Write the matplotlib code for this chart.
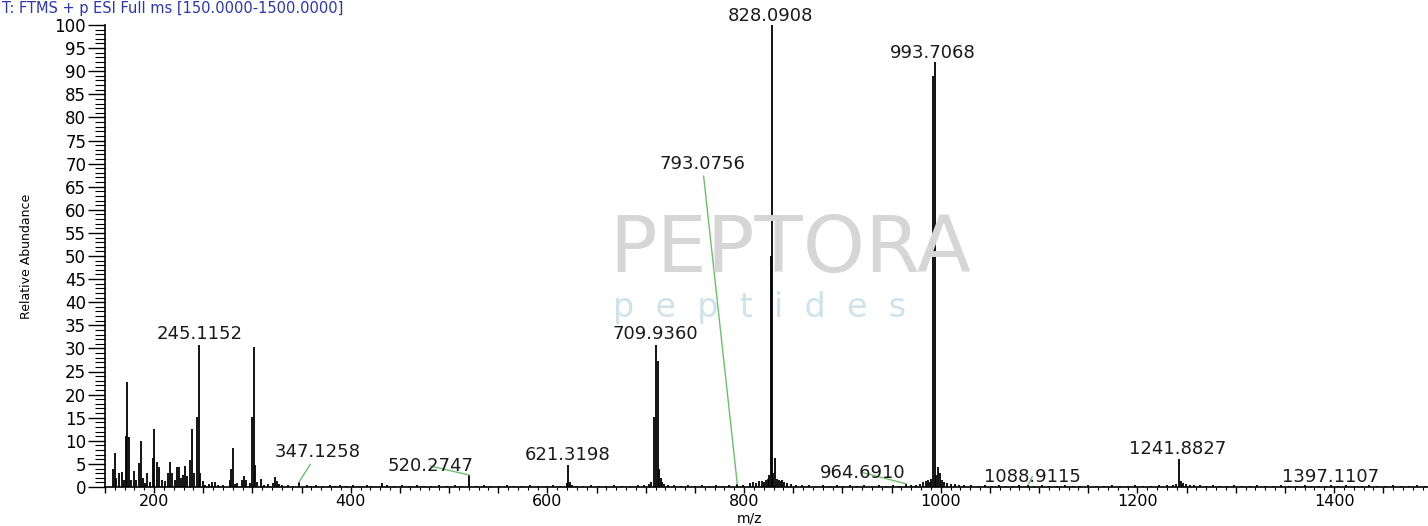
import matplotlib
matplotlib.use("Agg")
import matplotlib.pyplot as plt
from matplotlib.ticker import MultipleLocator, FuncFormatter

# ---------------- data ----------------
spectrum_mz = [
    158.3, 160.0, 161.5, 164.1, 166.8, 169.2, 171.2, 172.5, 174.3, 176.3,
    179.3, 181.4, 184.7, 186.4, 188.5, 190.5, 192.9, 195.6, 199.0, 200.0,
    202.4, 205.1, 207.8, 210.9, 214.2, 216.0, 218.0, 221.1, 223.4, 225.1,
    227.2, 229.2, 231.2, 233.3, 236.3, 238.3, 240.4, 243.8, 245.1152, 247.0,
    249.5, 252.0, 256.0, 259.0, 261.8, 265.0, 270.0, 277.0, 278.1, 279.7,
    282.0, 284.5, 289.2, 291.5, 293.2, 297.8, 299.8, 301.1, 303.0, 305.0,
    308.4, 312.0, 316.0, 320.5, 322.7, 324.5, 327.0, 330.0, 336.0, 341.0,
    347.1258, 355.0, 360.0, 365.0, 372.0, 379.0, 384.0, 389.0, 395.0, 402.0,
    409.0, 416.0, 422.0, 431.3, 437.0, 444.0, 452.0, 459.0, 467.0, 474.0,
    482.0, 490.0, 498.0, 506.0, 513.0, 520.2747, 527.0, 535.0, 543.0, 551.0,
    559.0, 566.0, 574.0, 582.0, 590.0, 598.0, 606.0, 613.0, 619.5, 621.3198,
    623.0, 625.0, 629.0, 636.0, 644.0, 652.0, 660.0, 668.0, 676.0, 684.0,
    692.0, 698.0, 703.0, 705.5, 708.0, 709.936, 712.0, 713.5, 715.0, 716.8,
    719.0, 723.0, 729.0, 736.0, 743.0, 750.0, 757.0, 764.0, 771.0, 778.0,
    785.0, 793.0756, 799.0, 805.7, 809.0, 812.0, 815.0, 818.0, 820.0, 822.0,
    824.0, 825.5, 827.0, 828.0908, 829.5, 831.3, 833.0, 835.0, 837.0, 839.0,
    841.0, 844.0, 848.0, 853.0, 859.0, 866.0, 873.0, 880.0, 887.0, 894.0,
    901.0, 908.0, 915.0, 922.0, 930.0, 937.0, 944.0, 951.0, 958.0, 964.691,
    970.0, 975.0, 979.0, 982.0, 985.0, 987.0, 989.0, 990.5, 992.2, 993.7068,
    995.5, 997.2, 999.0, 1001.0, 1003.0, 1006.0, 1010.0, 1014.0, 1019.0, 1024.0,
    1031.0, 1038.0, 1045.0, 1052.0, 1059.0, 1066.0, 1073.0, 1080.0, 1088.9115, 1095.0,
    1103.0, 1110.0, 1118.0, 1126.0, 1134.0, 1142.0, 1150.0, 1158.0, 1166.0, 1174.0,
    1182.0, 1190.0, 1198.0, 1206.0, 1214.0, 1222.0, 1230.0, 1236.0, 1239.0, 1241.8827,
    1244.0, 1246.5, 1249.0, 1253.0, 1258.0, 1264.0, 1270.0, 1277.0, 1284.0, 1291.0,
    1298.0, 1306.0, 1314.0, 1322.0, 1330.0, 1338.0, 1346.0, 1354.0, 1362.0, 1370.0,
    1377.0, 1385.0, 1392.0, 1397.1107, 1404.0, 1412.0, 1420.0, 1428.0, 1436.0, 1444.0,
    1452.0, 1460.0, 1468.0, 1476.0, 1484.0, 1492.0,
]
spectrum_int = [
    4.0, 7.4, 2.0, 3.0, 3.2, 1.5, 11.0, 22.8, 10.8, 1.5,
    3.4, 1.5, 5.3, 9.9, 2.0, 0.8, 3.1, 1.0, 6.3, 12.6,
    5.5, 4.4, 1.5, 1.2, 3.0, 5.4, 3.0, 1.5, 4.3, 4.3,
    2.0, 2.5, 4.5, 2.3, 5.9, 12.5, 3.0, 15.2, 30.8, 3.0,
    1.2, 0.5, 0.6, 1.0, 1.0, 0.4, 0.5, 1.5, 4.0, 8.5,
    0.6, 0.8, 1.5, 2.4, 1.6, 0.8, 15.2, 30.4, 4.8, 1.0,
    1.8, 0.5, 0.6, 0.8, 2.2, 1.2, 0.6, 0.4, 0.4, 0.3,
    1.0, 0.5, 0.3, 0.5, 0.3, 0.5, 0.3, 0.5, 0.3, 0.4,
    0.3, 0.4, 0.3, 0.9, 0.4, 0.3, 0.4, 0.3, 0.4, 0.3,
    0.3, 0.4, 0.3, 0.4, 0.3, 2.6, 0.3, 0.4, 0.3, 0.3,
    0.4, 0.3, 0.3, 0.4, 0.3, 0.3, 0.4, 0.3, 0.8, 4.7,
    1.0, 0.5, 0.3, 0.3, 0.4, 0.3, 0.3, 0.4, 0.3, 0.3,
    0.4, 0.5, 0.7, 1.0, 15.2, 30.8, 27.2, 4.0, 2.0, 1.0,
    0.6, 0.4, 0.4, 0.3, 0.4, 0.3, 0.4, 0.3, 0.4, 0.3,
    0.4, 0.6, 0.4, 0.9, 1.0, 0.8, 1.2, 1.4, 1.0, 1.5,
    1.8, 2.5, 50.0, 100.0, 3.0, 6.2, 1.8, 1.5, 1.2, 1.5,
    1.0, 0.8, 0.6, 0.5, 0.4, 0.4, 0.3, 0.4, 0.3, 0.4,
    0.3, 0.4, 0.3, 0.4, 0.3, 0.4, 0.3, 0.4, 0.3, 0.7,
    0.4, 0.5, 0.7, 1.0, 1.2, 1.5, 1.0, 1.8, 89.0, 92.0,
    2.5, 4.3, 3.0, 1.5, 1.0, 0.8, 0.7, 0.6, 0.5, 0.4,
    0.4, 0.3, 0.4, 0.3, 0.4, 0.3, 0.3, 0.4, 0.5, 0.3,
    0.4, 0.3, 0.3, 0.4, 0.3, 0.3, 0.4, 0.3, 0.3, 0.4,
    0.3, 0.3, 0.4, 0.3, 0.3, 0.4, 0.4, 0.5, 0.7, 6.1,
    1.2, 0.8, 0.6, 0.5, 0.4, 0.4, 0.3, 0.4, 0.3, 0.3,
    0.4, 0.3, 0.3, 0.4, 0.3, 0.3, 0.4, 0.3, 0.3, 0.4,
    0.3, 0.3, 0.3, 0.5, 0.3, 0.4, 0.3, 0.3, 0.4, 0.3,
    0.3, 0.4, 0.3, 0.3, 0.4, 0.3,
]

label_mz = [245.1152, 347.1258, 520.2747, 621.3198, 709.9360, 793.0756,
            828.0908, 964.6910, 993.7068, 1088.9115, 1241.8827, 1397.1107]

title_text = "T: FTMS + p ESI Full ms [150.0000-1500.0000]"
x_label = "m/z"
y_label = "Relative Abundance"
x_tick_labels = [200, 400, 600, 800, 1000, 1200, 1400]

# ---------------- figure ----------------
W, H = 1428, 526
fig = plt.figure(figsize=(W / 100, H / 100), dpi=100)
plt.rcParams['font.family'] = ['DejaVu Sans']

ax_left, ax_right, ax_top, ax_bottom = 105, 1428, 25, 487
ax = fig.add_axes([ax_left / W, (H - ax_bottom) / H,
                   (ax_right - ax_left) / W, (ax_bottom - ax_top) / H])

# watermark
fig.text(790 / W, 1 - 250 / H, "PEPTORA", fontsize=57, color="#d6d6d6",
         ha="center", va="center", zorder=0)
fig.text(760 / W, 1 - 307 / H, "p  e  p  t  i  d  e  s", fontsize=24,
         color="#cfe3ea", ha="center", va="center", zorder=0)

ax.patch.set_alpha(0)
ax.vlines(spectrum_mz, 0, spectrum_int, colors="black", linewidth=1.3, zorder=3)

ax.set_xlim(150, 1495.5)
ax.set_ylim(0, 100)

for s in ("top", "right"):
    ax.spines[s].set_visible(False)
for s in ("left", "bottom"):
    ax.spines[s].set_linewidth(1.2)

ax.yaxis.set_major_locator(MultipleLocator(5))
ax.yaxis.set_minor_locator(MultipleLocator(1))
ax.xaxis.set_major_locator(MultipleLocator(50))
ax.xaxis.set_minor_locator(MultipleLocator(10))
ax.xaxis.set_major_formatter(FuncFormatter(
    lambda v, p: f"{int(round(v))}" if int(round(v)) in x_tick_labels else ""))
ax.yaxis.set_major_formatter(FuncFormatter(lambda v, p: f"{int(round(v))}"))

ax.tick_params(axis="y", which="major", length=12, width=1, pad=1.5,
               labelsize=12, direction="out")
ax.tick_params(axis="y", which="minor", length=7, width=0.8, direction="out")
ax.tick_params(axis="x", which="major", length=4.2, width=1, pad=0.8,
               labelsize=11.5, direction="out")
ax.tick_params(axis="x", which="minor", length=2.2, width=0.8, direction="out")

ax.set_xlabel(x_label, fontsize=10, va="top")
ax.xaxis.set_label_coords((750 - ax_left) / (ax_right - ax_left),
                          (ax_bottom - 511) / (ax_bottom - ax_top))
ax.set_ylabel(y_label, fontsize=9)
ax.yaxis.set_label_coords((33 - ax_left) / (ax_right - ax_left), 0.5)

fig.text(2 / W, 1 - 1 / H, title_text, fontsize=10.5, color="#2a36b1",
         ha="left", va="top")

# peak labels: (dx, dy) offsets in pixels from peak top to label center
label_offsets = {
    245.1152: (1, -11), 347.1258: (19, -30), 520.2747: (-39, -9),
    621.3198: (-1, -10), 709.9360: (0, -11), 793.0756: (-35, -320),
    828.0908: (-1, -9), 964.6910: (-43, -11), 993.7068: (-2, -9),
    1088.9115: (4, -8), 1241.8827: (-1, -10), 1397.1107: (-1, -8),
}
leader = {347.1258, 520.2747, 793.0756, 964.6910, 1088.9115}
lookup = dict(zip(spectrum_mz, spectrum_int))
for mz in label_mz:
    inten = min(lookup[k] for k in lookup if abs(k - mz) < 1e-3)
    dx, dy = label_offsets[mz]
    kw = {}
    if mz in leader:
        kw["arrowprops"] = dict(arrowstyle="-", color="#6cc06c", lw=1.0,
                                shrinkA=0, shrinkB=0)
    ax.annotate(f"{mz:.4f}", xy=(mz, inten), xytext=(dx * 0.72, -dy * 0.72),
                textcoords="offset points", ha="center", va="center",
                fontsize=13, color="#1a1a1a", annotation_clip=False,
                zorder=4, **kw)

fig.savefig("out.png", dpi=100)
